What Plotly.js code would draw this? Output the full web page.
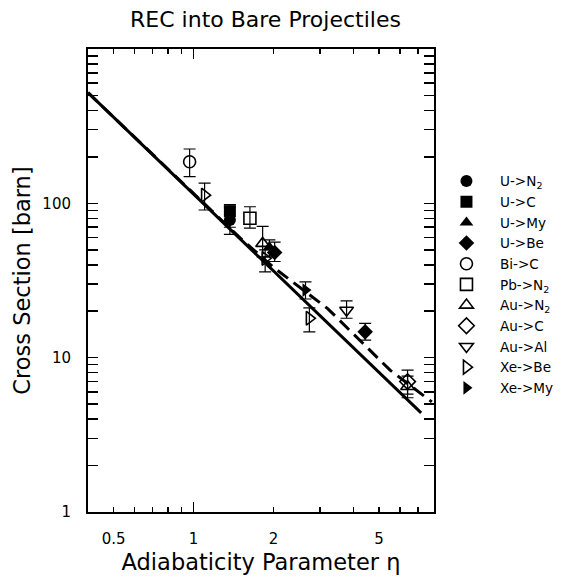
<!DOCTYPE html>
<html>
<head>
<meta charset="utf-8">
<script src="https://cdn.plot.ly/plotly-3.0.1.min.js"></script>
<style>html,body{margin:0;padding:0;background:#fff;}#chart{width:571px;height:579px;}</style>
</head>
<body>
<div id="chart"></div>
<script>
// ---- data ----
const seriesNames = ['U->N<sub>2</sub>','U->C','U->My','U->Be','Bi->C','Pb->N<sub>2</sub>','Au->N<sub>2</sub>','Au->C','Au->Al','Xe->Be','Xe->My'];
const seriesSymbols = ['circle','square','triangle-up','diamond','circle-open','square-open','triangle-up-open','diamond-open','triangle-down-open','triangle-right-open','triangle-right'];

const U_N2_x = [1.37],             U_N2_y = [78],             U_N2_hi = [95],             U_N2_lo = [63];
const U_C_x  = [1.37],             U_C_y  = [89],             U_C_hi  = [98],             U_C_lo  = [70];
const U_My_x = [1.93],             U_My_y = [52],             U_My_hi = [58],             U_My_lo = [45];
const U_Be_x = [2.02, 4.43],       U_Be_y = [48, 14.7],       U_Be_hi = [56, 16.7],       U_Be_lo = [42, 13];
const Bi_C_x = [0.966],            Bi_C_y = [186],            Bi_C_hi = [225],            Bi_C_lo = [149];
const Pb_N2_x = [1.63],            Pb_N2_y = [80],            Pb_N2_hi = [95],            Pb_N2_lo = [69];
const Au_N2_x = [1.82, 6.4],       Au_N2_y = [55, 6.5],       Au_N2_hi = [71, 7.6],       Au_N2_lo = [45, 5.5];
const Au_C_x = [6.4],              Au_C_y = [7.0],            Au_C_hi = [8.3],            Au_C_lo = [5.8];
const Au_Al_x = [3.77],            Au_Al_y = [20.3],          Au_Al_hi = [23.3],          Au_Al_lo = [18];
const Xe_Be_x = [1.10, 1.86, 2.73],Xe_Be_y = [113, 44, 18],   Xe_Be_hi = [135, 50, 21],   Xe_Be_lo = [90.5, 36, 14.7];
const Xe_My_x = [2.64],            Xe_My_y = [27.4],          Xe_My_hi = [31],            Xe_My_lo = [24];

const solidX = [0.4, 7.2];
const solidY = [521, 4.39];
const dashX = [0.4, 1.0, 1.5, 2.0, 2.6, 3.2, 5.5, 7.9];
const dashY = [521, 115, 59.5, 38.5, 27.5, 20.8, 8.3, 5.17];

const xTickVals = [0.5, 1, 2, 5];
const xTickText = ['0.5', '1', '2', '5'];
const xMinorVals = [0.6, 0.7, 0.8, 0.9, 3, 4, 6, 7, 8];
const xDecadeVals = [1];
const yTickVals = [1, 10, 100];
const yTickText = ['1', '10', '100'];
const yMinorVals = [2,3,4,5,6,7,8,9,20,30,40,50,60,70,80,90,200,300,400,500,600,700,800,900];

const seriesX = [U_N2_x,U_C_x,U_My_x,U_Be_x,Bi_C_x,Pb_N2_x,Au_N2_x,Au_C_x,Au_Al_x,Xe_Be_x,Xe_My_x];
const seriesY = [U_N2_y,U_C_y,U_My_y,U_Be_y,Bi_C_y,Pb_N2_y,Au_N2_y,Au_C_y,Au_Al_y,Xe_Be_y,Xe_My_y];
const seriesHi = [U_N2_hi,U_C_hi,U_My_hi,U_Be_hi,Bi_C_hi,Pb_N2_hi,Au_N2_hi,Au_C_hi,Au_Al_hi,Xe_Be_hi,Xe_My_hi];
const seriesLo = [U_N2_lo,U_C_lo,U_My_lo,U_Be_lo,Bi_C_lo,Pb_N2_lo,Au_N2_lo,Au_C_lo,Au_Al_lo,Xe_Be_lo,Xe_My_lo];

const FONT = 'DejaVu Sans, Liberation Sans, sans-serif';
const XRANGE = [Math.log10(0.4), Math.log10(8.05)];
const traces = [];
traces.push({x: solidX, y: solidY, mode: 'lines', line: {color: '#000', width: 3}, showlegend: false, hoverinfo: 'skip'});
traces.push({x: dashX, y: dashY, mode: 'lines', line: {color: '#000', width: 3, dash: '13px,7px'}, showlegend: false, hoverinfo: 'skip'});
for (let i = 0; i < seriesNames.length; i++) {
  const ys = seriesY[i];
  const open = seriesSymbols[i].indexOf('open') >= 0;
  traces.push({
    x: seriesX[i], y: ys, name: seriesNames[i], mode: 'markers', type: 'scatter',
    marker: {symbol: seriesSymbols[i], size: 12, color: '#000', line: {color: '#000', width: open ? 1.6 : 0}},
    error_y: {type: 'data', symmetric: false,
      array: seriesHi[i].map((h, k) => h - ys[k]),
      arrayminus: seriesLo[i].map((l, k) => ys[k] - l),
      color: '#000', thickness: 1.2, width: 6}
  });
}
// empty trace hosting the overlay axis that carries the long decade tick
traces.push({x: [], y: [], xaxis: 'x2', yaxis: 'y', showlegend: false, hoverinfo: 'skip'});

const layout = {
  width: 571, height: 579,
  margin: {l: 88, r: 133, t: 49, b: 67, pad: 0},
  paper_bgcolor: '#fff', plot_bgcolor: '#fff',
  font: {family: FONT, color: '#000', size: 15},
  showlegend: true,
  title: {text: 'REC into Bare Projectiles', font: {family: FONT, size: 22, color: '#000'},
          xref: 'paper', x: 0.513, xanchor: 'center', yref: 'container', y: 0.966, yanchor: 'middle'},
  xaxis: {type: 'log', range: XRANGE,
    tickmode: 'array', tickvals: xTickVals, ticktext: xTickText,
    ticks: 'inside', ticklen: 5, tickwidth: 1.5, tickcolor: '#000',
    minor: {tickmode: 'array', tickvals: xMinorVals, ticks: 'inside', ticklen: 5, tickwidth: 1.5, tickcolor: '#000'},
    showline: true, linecolor: '#000', linewidth: 2, mirror: 'allticks',
    showgrid: false, zeroline: false, ticklabelstandoff: 12,
    tickfont: {family: FONT, size: 15},
    title: {text: 'Adiabaticity Parameter η', font: {family: FONT, size: 22.5}, standoff: 7}},
  xaxis2: {type: 'log', overlaying: 'x', range: XRANGE,
    tickmode: 'array', tickvals: xDecadeVals, showticklabels: false,
    ticks: 'inside', ticklen: 10, tickwidth: 1.5, tickcolor: '#000',
    showline: false, mirror: 'allticks', showgrid: false, zeroline: false, side: 'bottom', anchor: 'y'},
  yaxis: {type: 'log', range: [0, 3],
    tickmode: 'array', tickvals: yTickVals, ticktext: yTickText,
    ticks: 'inside', ticklen: 10, tickwidth: 1.5, tickcolor: '#000',
    minor: {tickmode: 'array', tickvals: yMinorVals, ticks: 'inside', ticklen: 6, tickwidth: 1.5, tickcolor: '#000'},
    showline: true, linecolor: '#000', linewidth: 2, mirror: 'allticks',
    showgrid: false, zeroline: false, ticklabelstandoff: 12,
    tickfont: {family: FONT, size: 15},
    title: {text: 'Cross Section [barn]', font: {family: FONT, size: 22.5}, standoff: 5}},
  legend: {x: 0.997, xanchor: 'left', y: 0.748, yanchor: 'top', bgcolor: 'rgba(0,0,0,0)',
    font: {family: FONT, size: 13.6, color: '#000'}, itemwidth: 57, tracegroupgap: 0}
};

Plotly.newPlot('chart', traces, layout, {displayModeBar: false, staticPlot: true});
</script>
</body>
</html>
